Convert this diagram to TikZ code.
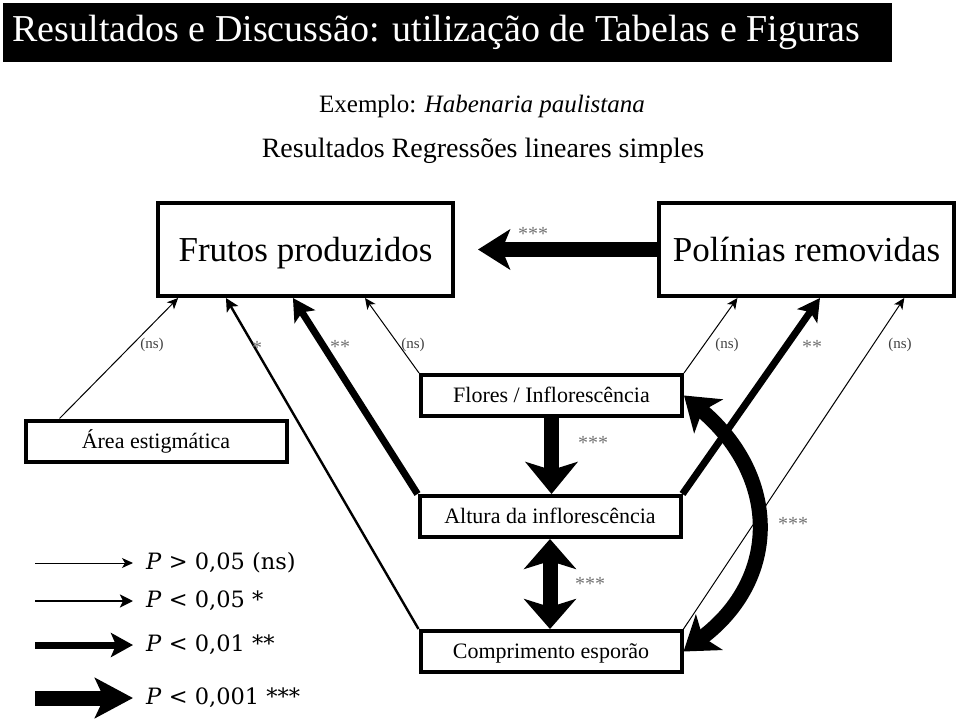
\documentclass[tikz,border=0pt]{standalone}
\usepackage{fontspec}
\setmainfont{Liberation Serif}
\newfontfamily\legendfont{DejaVu Serif}
\usetikzlibrary{arrows.meta,calc}

\begin{document}
\begin{tikzpicture}[x=1pt,y=-1pt,
                    box/.style={draw,line width=4pt,inner sep=0pt,text depth=0pt},
                    bigbox/.style={box,minimum width=295pt,minimum height=93pt,text height=23pt,font=\fontsize{35}{35}\selectfont},
                    smallbox/.style={box,minimum width=261pt,minimum height=41pt,text height=14.5pt,font=\fontsize{22}{22}\selectfont},
                    siglabel/.style={inner sep=0pt,text=black!55,font=\fontsize{20}{20}\selectfont},
                    nslabel/.style={inner sep=0pt,text=black!75,font=\fontsize{15}{15}\selectfont},
                    legendtext/.style={inner sep=0pt,anchor=west,font=\legendfont\fontsize{22.5}{22.5}\selectfont},
                    sig0/.style={line width=1pt,-{Stealth[length=11pt,width=10pt,inset=3pt]}},
                    sig1/.style={line width=2.4pt,-{Stealth[length=13pt,width=13pt,inset=3pt]}},
                    sig2/.style={line width=7pt,-{Stealth[length=22pt,width=24pt,inset=5pt]}},
                    sig3/.style={line width=15pt,-{Stealth[length=32pt,width=40pt,inset=8pt]}}]
\useasboundingbox (0,0) rectangle (960,719);

% heading
\node[fill=black,text=white,minimum width=889pt,minimum height=59pt,inner sep=0pt,
      font=\fontsize{38}{38}\selectfont] (title) at (447.5,32.5)
    {Resultados e Discussão: utilização de Tabelas e Figuras\hspace*{22pt}};
\node[font=\fontsize{25}{25}\selectfont] (example) at (482,106) {Exemplo: \textit{Habenaria paulistana}};
\node[font=\fontsize{28}{28}\selectfont] (subtitle) at (483,151) {Resultados Regressões lineares simples};

% variables
\node[bigbox] (frutos) at (305.5,249.5) {Frutos produzidos};
\node[bigbox] (polinias) at (806.5,249.5) {Polínias removidas};
\node[smallbox] (area) at (156,441) {Área estigmática};
\node[smallbox] (flores) at (551.5,395.5) {Flores / Inflorescência};
\node[smallbox] (altura) at (550,516.5) {Altura da inflorescência};
\node[smallbox] (comp) at (551,651.5) {Comprimento esporão};

% regressions
\draw[sig3,shorten >=23pt] (polinias.west) -- (frutos.east);
\draw[sig0] ($(area.north west)!0.136!(area.north east)$) -- ($(frutos.south west)!0.074!(frutos.south east)$);
\draw[sig1] (comp.north west) -- ($(frutos.south west)!0.234!(frutos.south east)$);
\draw[sig2] (altura.north west) -- ($(frutos.south west)!0.458!(frutos.south east)$);
\draw[sig0] (flores.north west) -- ($(frutos.south west)!0.699!(frutos.south east)$);
\draw[sig0] (flores.north east) -- ($(polinias.south west)!0.269!(polinias.south east)$);
\draw[sig2] (altura.north east) -- ($(polinias.south west)!0.545!(polinias.south east)$);
\draw[sig0] (comp.north east) -- ($(polinias.south west)!0.827!(polinias.south east)$);
\draw[sig3,-{Stealth[length=32pt,width=52pt,inset=8pt]}] (flores.south) -- (flores.south |- altura.north);
\draw[sig3,{Stealth[length=30pt,width=52pt,inset=8pt]}-{Stealth[length=30pt,width=52pt,inset=8pt]}]
    (altura.south) -- (altura.south |- comp.north);
\draw[sig3,{Stealth[length=32pt,width=44pt,inset=8pt]}-{Stealth[length=32pt,width=44pt,inset=8pt]}]
    (comp.east) .. controls (780,579) and (780,477) .. (flores.east);

% significance
\node[siglabel] (s1) at (533,234) {***};
\node[nslabel] (s2) at (152,345) {(ns)};
\node[siglabel] (s3) at (257,348) {*};
\node[siglabel] (s4) at (340,347) {**};
\node[nslabel] (s5) at (413,345) {(ns)};
\node[nslabel] (s6) at (727,345) {(ns)};
\node[siglabel] (s7) at (812,347) {**};
\node[nslabel] (s8) at (900,345) {(ns)};
\node[siglabel] (s9) at (593,443) {***};
\node[siglabel] (s10) at (590,584) {***};
\node[siglabel] (s11) at (793,524) {***};

% legend
\coordinate (l0) at (35,563);
\coordinate (l1) at (35,601);
\coordinate (l2) at (35,645);
\coordinate (l3) at (35,698);
\node[legendtext] (t0) at (146,563) {\textit{P} > 0,05 (ns)};
\node[legendtext] (t1) at (146,601) {\textit{P} < 0,05 *};
\node[legendtext] (t2) at (146,645) {\textit{P} < 0,01 **};
\node[legendtext] (t3) at (146,698) {\textit{P} < 0,001 ***};
\draw[sig0,shorten >=13pt] (l0) -- (t0.west);
\draw[sig1,shorten >=13pt] (l1) -- (t1.west);
\draw[sig2,shorten >=13pt] (l2) -- (t2.west);
\draw[sig3,-{Stealth[length=38pt,width=40pt,inset=9pt]},shorten >=13pt] (l3) -- (t3.west);
\end{tikzpicture}
\end{document}
